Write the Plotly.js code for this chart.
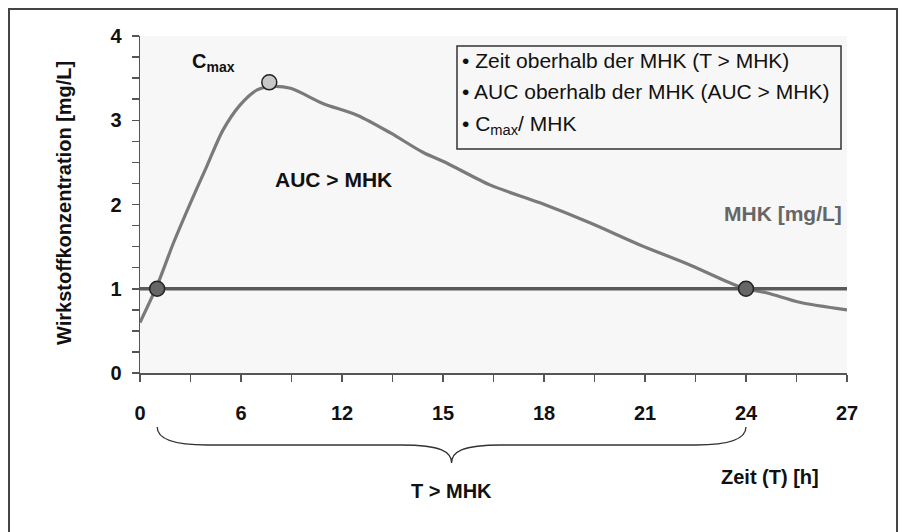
<!DOCTYPE html>
<html>
<head>
<meta charset="utf-8">
<script src="https://cdn.plot.ly/plotly-3.0.1.min.js"></script>
<style>html,body{margin:0;padding:0;background:#fff;}#chart{width:903px;height:532px;}</style>
</head>
<body>
<div id="chart"></div>
<script>
// Axis positions (evenly spaced) and their labels (hours)
var tickPositions = [0, 1, 2, 3, 4, 5, 6, 7];
var tickLabels = ['0', '6', '12', '15', '18', '21', '24', '27'];

// Concentration curve (x in axis positions, y in mg/L)
var curveX = [0, 0.17, 0.33, 0.5, 0.66, 0.82, 0.99, 1.16, 1.29, 1.49, 1.81, 2.15, 2.48, 2.8, 3.04, 3.47, 3.96, 4.46, 4.95, 5.45, 5.84, 5.99, 6.21, 6.53, 7.0];
var curveY = [0.6, 1.04, 1.54, 2.02, 2.45, 2.88, 3.18, 3.36, 3.40, 3.38, 3.20, 3.06, 2.85, 2.62, 2.49, 2.23, 2.02, 1.78, 1.52, 1.28, 1.07, 1.0, 0.95, 0.84, 0.75];

// MHK level
var mhkX = [0, 7];
var mhkY = [1, 1];

// Marked points
var cmaxX = [1.28];
var cmaxY = [3.45];
var crossX = [0.17, 6.0];
var crossY = [1, 1];

var legendLines = [
  '\u2022 Zeit oberhalb der MHK (T > MHK)',
  '\u2022 AUC oberhalb der MHK (AUC > MHK)',
  '\u2022 C<sub>max</sub>/ MHK'
];

var W = 903, H = 532, L = 140, R = 56, T = 36, B = 159;
var pw = W - L - R, ph = H - T - B;
function px(x) { return (x - L) / pw; }
function py(y) { return (H - B - y) / ph; }
function dx(v) { return px(L + v / 7 * pw); } // data x -> paper

var FONT = 'Liberation Sans, Arial, Helvetica, sans-serif';

var traces = [
  {x: curveX, y: curveY, mode: 'lines', line: {color: '#7a7a7a', width: 3.2, shape: 'spline', smoothing: 0.8}, hoverinfo: 'skip'},
  {x: mhkX, y: mhkY, mode: 'lines', line: {color: '#5a5a5a', width: 3.5}, hoverinfo: 'skip'},
  {x: crossX, y: crossY, mode: 'markers', marker: {size: 15, color: '#666666', line: {color: '#222', width: 1.5}}},
  {x: cmaxX, y: cmaxY, mode: 'markers', marker: {size: 15, color: '#c8c8c8', line: {color: '#222', width: 1.5}}}
];

// brace path (pixel coordinates derived from crossing points)
var bx1 = L + crossX[0] / 7 * pw, bx2 = L + crossX[1] / 7 * pw, bm = (bx1 + bx2) / 2;
var yTop = 427, yMid = 445, yTip = 463;
function P(x, y) { return px(x).toFixed(5) + ',' + py(y).toFixed(5); }
var bracePath = 'M' + P(bx1, yTop) +
  ' C' + P(bx1, yTop + 13) + ' ' + P(bx1 + 18, yMid) + ' ' + P(bx1 + 50, yMid) +
  ' L' + P(bm - 50, yMid) +
  ' C' + P(bm - 10, yMid) + ' ' + P(bm, yMid + 7) + ' ' + P(bm, yTip) +
  ' C' + P(bm, yMid + 7) + ' ' + P(bm + 10, yMid) + ' ' + P(bm + 50, yMid) +
  ' L' + P(bx2 - 50, yMid) +
  ' C' + P(bx2 - 18, yMid) + ' ' + P(bx2, yTop + 13) + ' ' + P(bx2, yTop);

var shapes = [
  {type: 'rect', xref: 'paper', yref: 'paper', x0: px(9), x1: px(897), y0: py(560), y1: py(9), line: {color: '#444', width: 2}, fillcolor: 'rgba(0,0,0,0)', layer: 'below'},
  {type: 'rect', xref: 'paper', yref: 'paper', x0: px(457), x1: px(841), y0: py(149), y1: py(46), line: {color: '#333', width: 1.5}, fillcolor: '#f7f7f7', layer: 'above'},
  {type: 'path', xref: 'paper', yref: 'paper', path: bracePath, line: {color: '#333', width: 1.3}}
];

var bold20 = {family: FONT, size: 20, color: '#111', weight: 'bold'};
var annotations = [
  {xref: 'paper', yref: 'paper', x: px(64), y: py(203), text: 'Wirkstoffkonzentration [mg/L]', textangle: -90, showarrow: false, xanchor: 'center', yanchor: 'middle', font: bold20},
  {xref: 'paper', yref: 'paper', x: px(190), y: py(62), text: 'C<sub>max</sub>', showarrow: false, xanchor: 'left', yanchor: 'middle', font: bold20},
  {xref: 'paper', yref: 'paper', x: px(333), y: py(179), text: 'AUC > MHK', showarrow: false, xanchor: 'center', yanchor: 'middle', font: {family: FONT, size: 21, color: '#111', weight: 'bold'}},
  {xref: 'paper', yref: 'paper', x: px(844), y: py(213), text: 'MHK [mg/L]', showarrow: false, xanchor: 'right', yanchor: 'middle', font: {family: FONT, size: 21, color: '#666', weight: 'bold'}},
  {xref: 'paper', yref: 'paper', x: px(bm), y: py(491), text: 'T > MHK', showarrow: false, xanchor: 'center', yanchor: 'middle', font: bold20},
  {xref: 'paper', yref: 'paper', x: px(770), y: py(477), text: 'Zeit (T) [h]', showarrow: false, xanchor: 'center', yanchor: 'middle', font: bold20}
];
var legY = [60, 91, 125];
legendLines.forEach(function (t, i) {
  annotations.push({xref: 'paper', yref: 'paper', x: px(460), y: py(legY[i]), text: t, showarrow: false, xanchor: 'left', yanchor: 'middle', font: {family: FONT, size: 21, color: '#111'}});
});

var layout = {
  width: W, height: H,
  margin: {l: L, r: R, t: T, b: B, pad: 0},
  paper_bgcolor: '#ffffff',
  plot_bgcolor: '#f7f7f7',
  showlegend: false,
  xaxis: {
    range: [0, 7], tickmode: 'array', tickvals: tickPositions, ticktext: tickLabels,
    ticks: 'outside', ticklen: 7, tickwidth: 1.5, tickcolor: '#555',
    showline: true, linecolor: '#555', linewidth: 1.5, showgrid: false, zeroline: false,
    tickfont: bold20, ticklabelstandoff: 14,
    minor: {tickmode: 'linear', tick0: 0, dtick: 0.5, ticks: 'outside', ticklen: 7, tickwidth: 1.5, tickcolor: '#555', showgrid: false},
    fixedrange: true
  },
  yaxis: {
    range: [0, 4], tickmode: 'linear', tick0: 0, dtick: 1,
    ticks: 'outside', ticklen: 7, tickwidth: 1.5, tickcolor: '#555',
    showline: true, linecolor: '#555', linewidth: 1.5, showgrid: false, zeroline: false,
    tickfont: bold20, ticklabelstandoff: 6,
    minor: {tickmode: 'linear', tick0: 0, dtick: 0.25, ticks: 'outside', ticklen: 7, tickwidth: 1.5, tickcolor: '#555', showgrid: false},
    fixedrange: true
  },
  shapes: shapes,
  annotations: annotations
};

Plotly.newPlot('chart', traces, layout, {staticPlot: true, displayModeBar: false});
</script>
</body>
</html>
